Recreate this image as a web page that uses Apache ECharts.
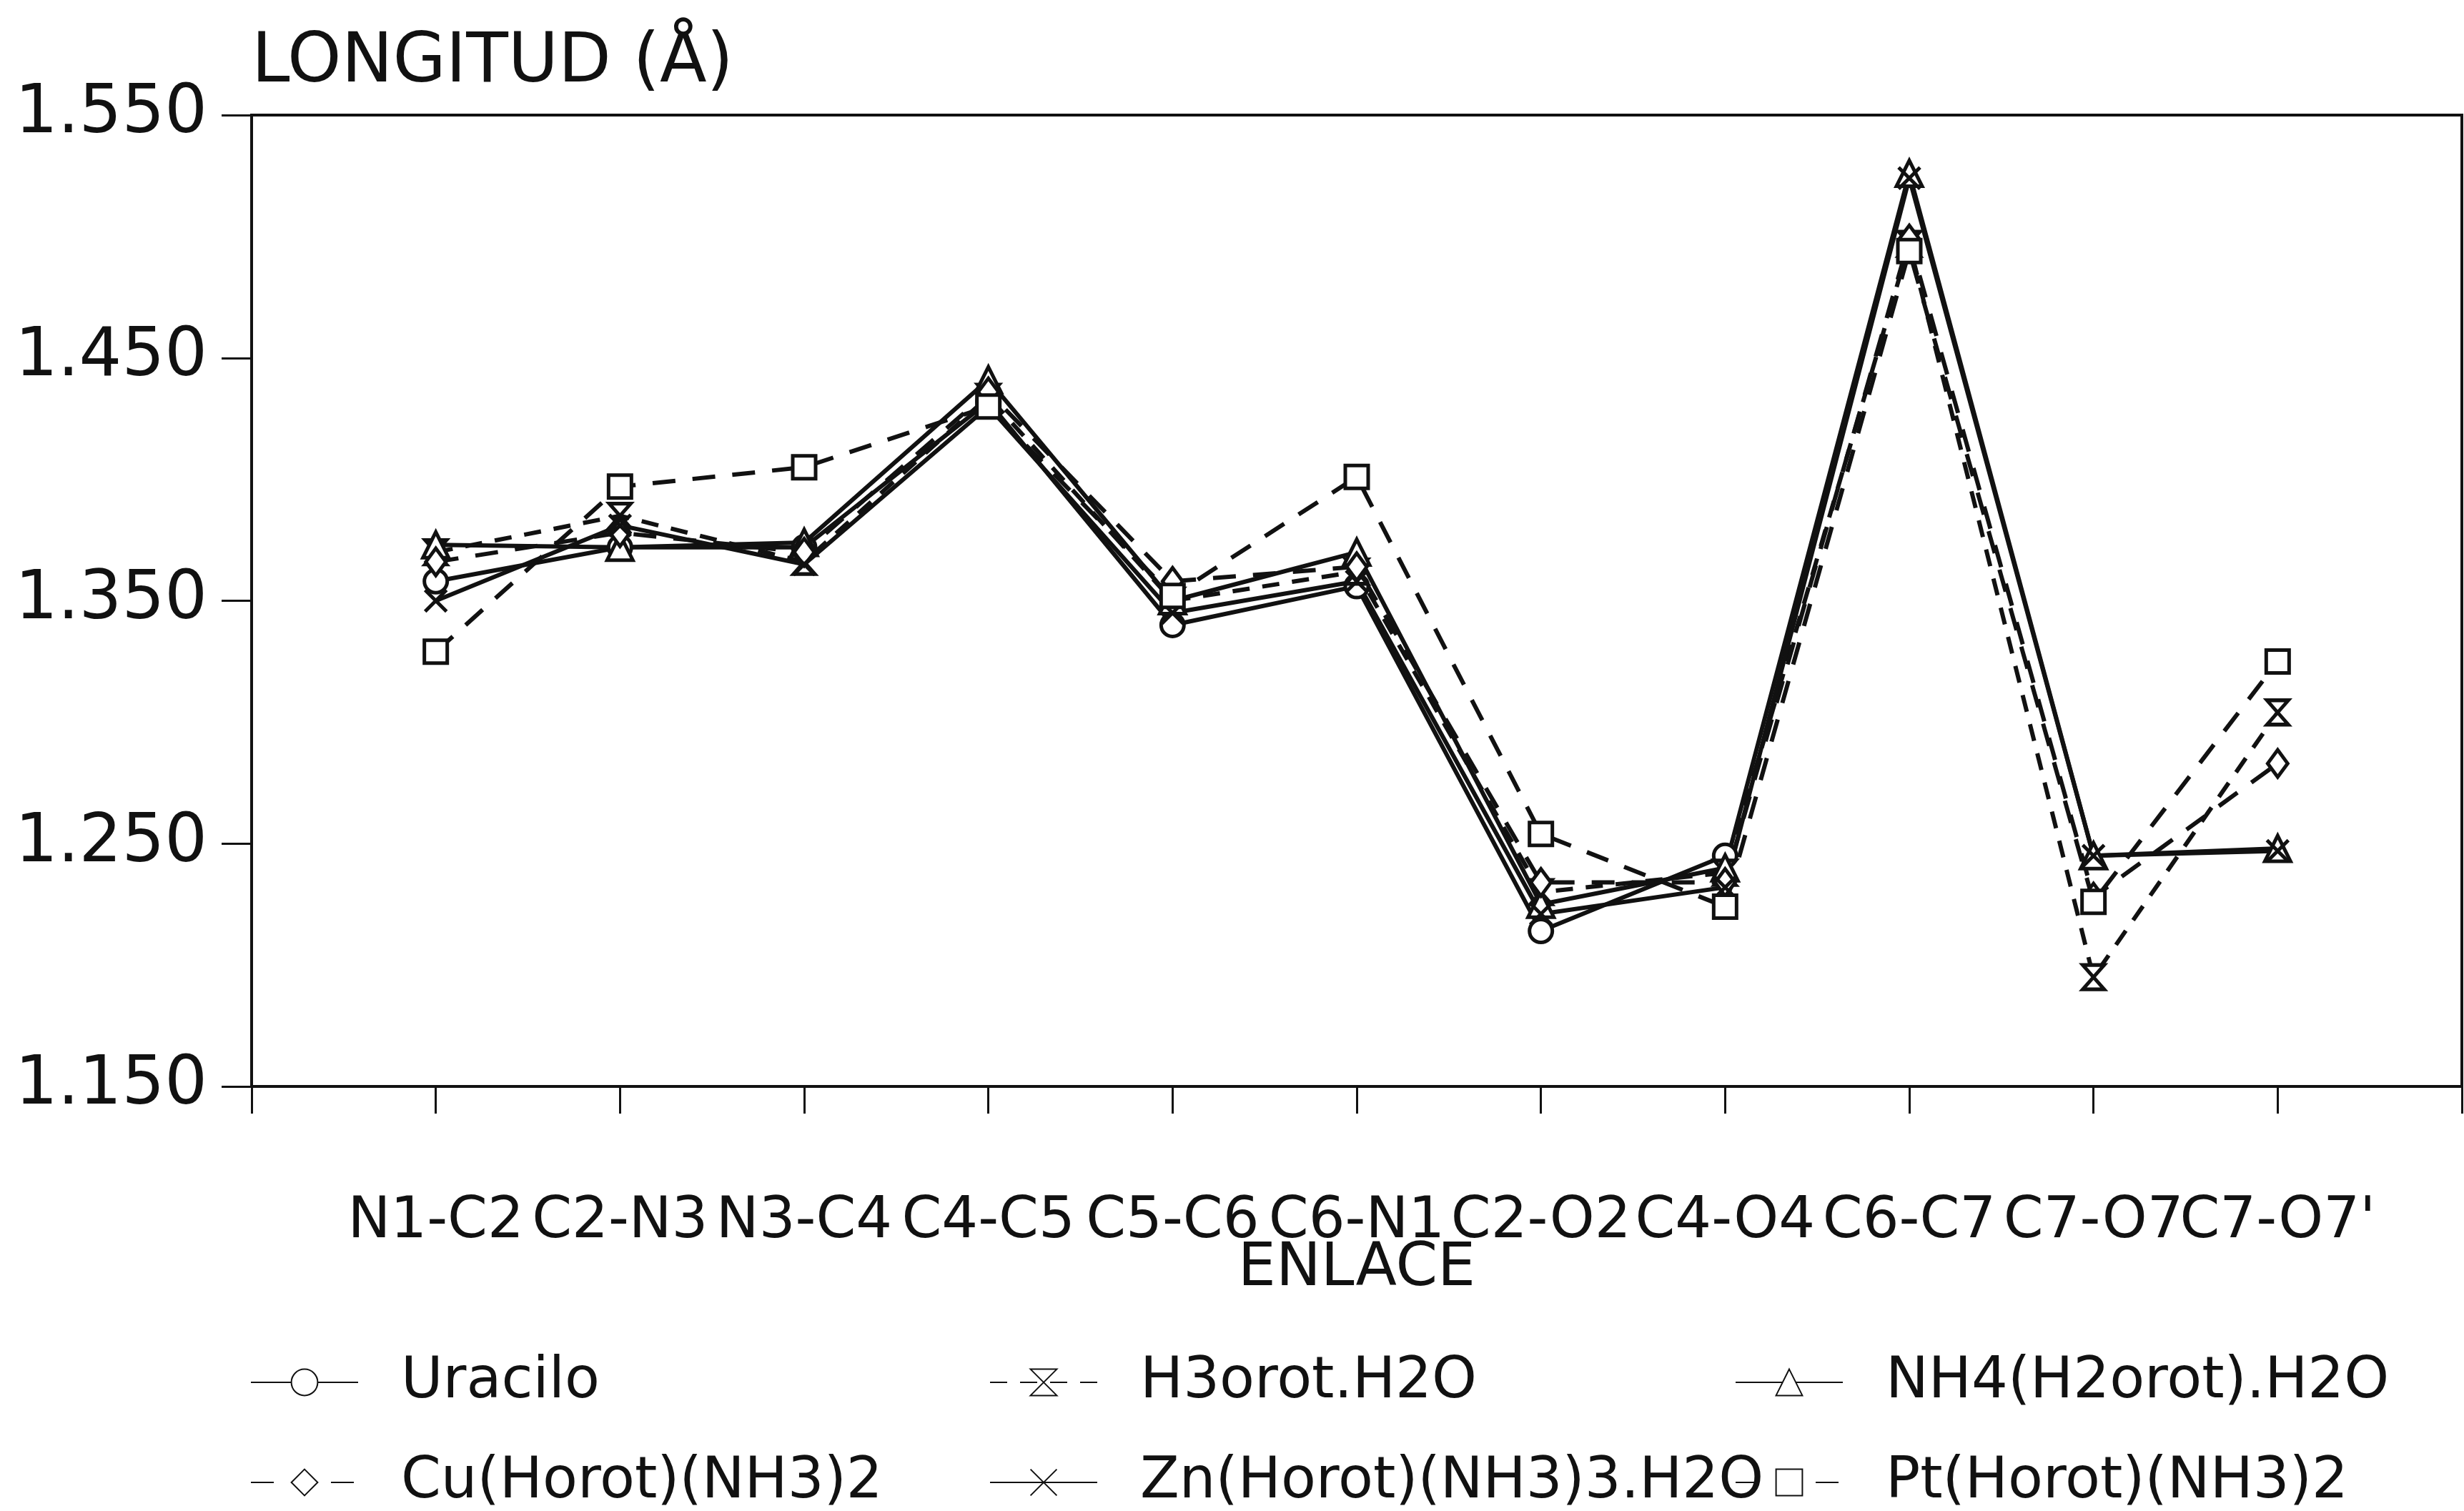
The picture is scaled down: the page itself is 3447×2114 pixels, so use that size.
<!DOCTYPE html>
<html><head><meta charset="utf-8">
<script src="https://cdn.jsdelivr.net/npm/echarts@6/dist/echarts.min.js"></script>
<style>html,body{margin:0;padding:0;background:#fff}#c{width:3447px;height:2114px}</style>
</head><body><div id="c"></div>
<script>
// ---- data ----
const categories = ['N1-C2','C2-N3','N3-C4','C4-C5','C5-C6','C6-N1','C2-O2','C4-O4','C6-C7','C7-O7',"C7-O7'"];
const yTicks = [1.150, 1.250, 1.350, 1.450, 1.550];
const uracilo  = [1.358, 1.372, 1.372, 1.432, 1.340, 1.356, 1.214, 1.245, null, null, null];
const h3orot   = [1.370, 1.385, 1.366, 1.434, 1.350, 1.362, 1.230, 1.238, 1.497, 1.195, 1.304];
const nh4      = [1.373, 1.372, 1.374, 1.441, 1.350, 1.370, 1.225, 1.240, 1.526, 1.245, 1.248];
const cu       = [1.366, 1.378, 1.370, 1.436, 1.358, 1.364, 1.234, 1.234, 1.499, 1.228, 1.283];
const zn       = [1.350, 1.381, 1.365, 1.430, 1.345, 1.358, 1.221, 1.232, 1.524, 1.245, 1.247];
const pt       = [1.329, 1.397, 1.405, 1.430, 1.352, 1.401, 1.254, 1.224, 1.494, 1.226, 1.325];
const names = ['Uracilo','H3orot.H2O','NH4(H2orot).H2O','Cu(Horot)(NH3)2','Zn(Horot)(NH3)3.H2O','Pt(Horot)(NH3)2'];

const INK = '#111';
const FONT = 'DejaVu Sans';
const HOURGLASS = 'path://M0,0 L10,0 L0,12 L10,12 Z';
const XMARK = 'path://M0,0 L10,10 M10,0 L0,10';

function pts(vals){
  const out = [];
  vals.forEach((v,i)=>{ if(v!==null) out.push([i+1, v]); });
  return out;
}
function mk(name, vals, symbol, dash, opts){
  return Object.assign({
    name, type:'line', data: pts(vals), symbol, symbolSize: 32,
    lineStyle:{color:INK, width:6, type: dash},
    itemStyle:{color:'#fff', borderColor:INK, borderWidth:5},
    emphasis:{disabled:true}, animation:false, z: 3
  }, opts||{});
}

const series = [
  mk(names[0], uracilo, 'circle', 'solid'),
  mk(names[1], h3orot, HOURGLASS, [24,18], {symbolSize:[30,34]}),
  mk(names[2], nh4, 'triangle', 'solid', {symbolSize:36}),
  mk(names[3], cu, 'diamond', [32,24], {symbolSize:[28,38]}),
  mk(names[4], zn, XMARK, 'solid', {itemStyle:{color:'none', borderColor:INK, borderWidth:5}, symbolSize:30}),
  mk(names[5], pt, 'rect', [32,24], {symbolSize:32})
];

const legendPos = [
  [345,1887],[1379,1887],[2422,1887],
  [345,2027],[1379,2027],[2422,2027]
];
const legends = names.map((n,i)=>({
  left: legendPos[i][0], top: legendPos[i][1], orient:'horizontal',
  data:[n], itemWidth:150, itemHeight:46, selectedMode:false,
  textStyle:{fontFamily:FONT, fontSize:80, color:INK, lineHeight:84, padding:[0,0,0,55]}
}));

const chart = echarts.init(document.getElementById('c'), null, {renderer:'canvas'});
chart.setOption({
  backgroundColor:'#fff',
  animation:false,
  grid:{left:352, top:161, width:3120, height:1359, show:true, borderColor:INK, borderWidth:4, backgroundColor:'transparent'},
  legend: legends,
  xAxis:{
    type:'value', min:0, max:12, interval:1,
    name:'ENLACE', nameLocation:'middle', nameGap:256, nameMoveOverlap:false,
    nameTextStyle:{fontFamily:FONT, fontSize:84, color:INK, verticalAlign:'middle'},
    axisLine:{show:true, lineStyle:{color:INK, width:4}},
    axisTick:{show:true, length:38, inside:false, lineStyle:{color:INK, width:3}},
    splitLine:{show:false},
    axisLabel:{
      margin:150, fontFamily:FONT, fontSize:80, color:INK, hideOverlap:false,
      formatter:v => (v>=1 && v<=categories.length) ? categories[v-1] : ''
    }
  },
  yAxis:{
    type:'value', min:1.15, max:1.55,
    name:'LONGITUD (Å)', nameLocation:'end', nameGap:72, nameMoveOverlap:false,
    nameTextStyle:{fontFamily:FONT, fontSize:96, color:INK, align:'left', verticalAlign:'middle'},
    axisLine:{show:true, lineStyle:{color:INK, width:4}},
    axisTick:{show:true, length:42, inside:false, customValues:yTicks, lineStyle:{color:INK, width:3}},
    splitLine:{show:false},
    axisLabel:{margin:62, fontFamily:FONT, fontSize:94, color:INK, customValues:yTicks,
      formatter:v => v.toFixed(3)}
  },
  series
});
</script></body></html>
